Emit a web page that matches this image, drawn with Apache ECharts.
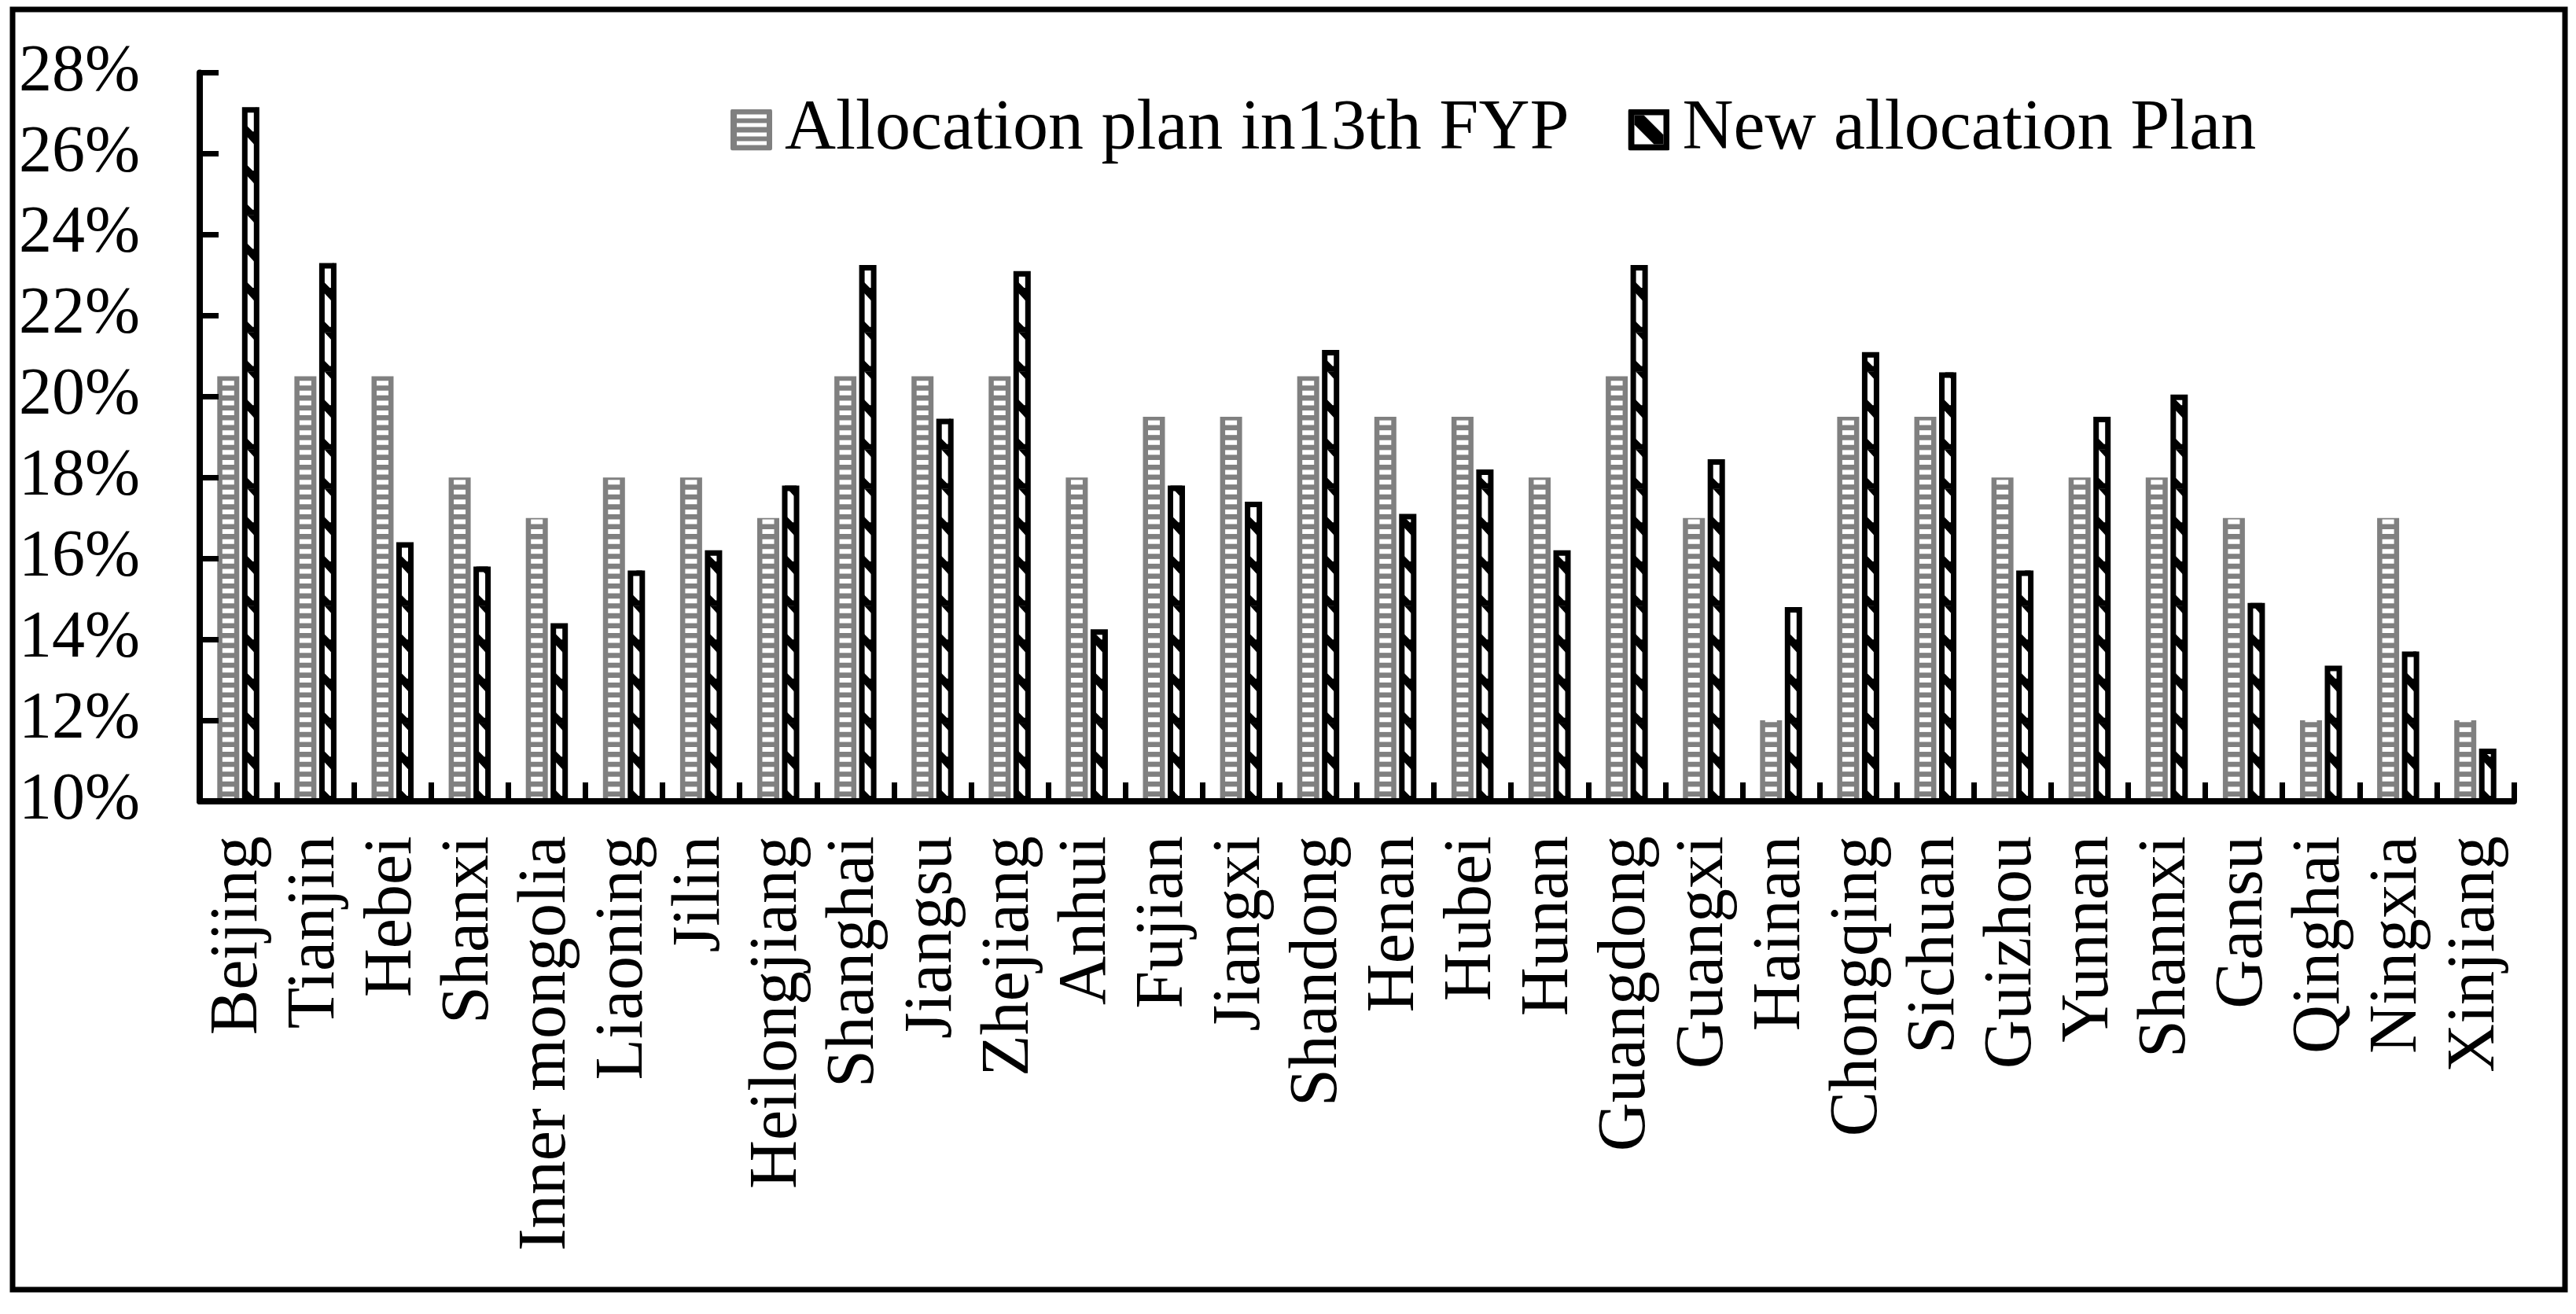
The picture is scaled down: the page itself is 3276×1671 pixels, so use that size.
<!DOCTYPE html>
<html>
<head>
<meta charset="utf-8">
<script src="https://cdn.jsdelivr.net/npm/echarts@6/dist/echarts.min.js"></script>
<style>
html,body{margin:0;padding:0;background:#ffffff;}
#chart{width:3276px;height:1671px;}
</style>
</head>
<body>
<div id="chart"></div>
<script>
// ---- data ----
const categories = ['Beijing','Tianjin','Hebei','Shanxi','Inner mongolia','Liaoning','Jilin','Heilongjiang','Shanghai','Jiangsu','Zhejiang','Anhui','Fujian','Jiangxi','Shandong','Henan','Hubei','Hunan','Guangdong','Guangxi','Hainan','Chongqing','Sichuan','Guizhou','Yunnan','Shannxi','Gansu','Qinghai','Ningxia','Xinjiang'];
const plan13 = [20.5,20.5,20.5,18,17,18,18,17,20.5,20.5,20.5,18,19.5,19.5,20.5,19.5,19.5,18,20.5,17,12,19.5,19.5,18,18,18,17,12,17,12];
const newPlan = [27.15,23.3,16.4,15.8,14.4,15.7,16.2,17.8,23.25,19.45,23.1,14.25,17.8,17.4,21.15,17.1,18.2,16.2,23.25,18.45,14.8,21.1,20.6,15.7,19.5,20.05,14.9,13.35,13.7,11.3];
const seriesNames = ['Allocation plan in13th FYP','New allocation Plan'];
const yMin = 10, yMax = 28, yInterval = 2;

// ---- legend icons ----
const grayIcon = "<svg xmlns='http://www.w3.org/2000/svg' width='53' height='53'><rect x='0' y='0' width='53' height='53' rx='3' fill='#808080'/><rect x='8' y='7' width='38' height='5' fill='#fff'/><rect x='8' y='18' width='38' height='5' fill='#fff'/><rect x='8' y='30' width='38' height='5' fill='#fff'/><rect x='8' y='41' width='38' height='5' fill='#fff'/></svg>";
const blackIcon = "<svg xmlns='http://www.w3.org/2000/svg' width='53' height='53'><rect x='0' y='0' width='53' height='53' rx='3' fill='#000'/><rect x='8' y='8' width='37' height='37' fill='#fff'/><polygon points='8,8 20,8 45,33 45,45 33,45 8,20' fill='#000'/></svg>";
const svgUri = s => 'image://data:image/svg+xml;charset=utf-8,' + encodeURIComponent(s);

const FONT = "'Liberation Serif','Times New Roman',serif";
const chart = echarts.init(document.getElementById('chart'), null, {renderer:'canvas'});

chart.setOption({
  animation: false,
  backgroundColor: '#ffffff',
  graphic: [{
    type: 'rect', silent: true, z: 100,
    shape: {x: 16, y: 12, width: 3246, height: 1628},
    style: {fill: 'none', stroke: '#000', lineWidth: 7}
  }],
  legend: {
    left: 924, top: 115,
    itemWidth: 53, itemHeight: 53, itemGap: 75,
    textStyle: {fontFamily: FONT, fontSize: 90, color: '#000', padding: [0,0,0,11]},
    data: [
      {name: seriesNames[0], icon: svgUri(grayIcon)},
      {name: seriesNames[1], icon: svgUri(blackIcon)}
    ]
  },
  grid: {left: 254, right: 79, top: 92.5, bottom: 652, containLabel: false},
  xAxis: {
    type: 'category', data: categories, z: 10,
    axisLine: {show: true, lineStyle: {color: '#000', width: 8}},
    axisTick: {show: true, inside: true, length: 24, interval: 0, lineStyle: {color: '#000', width: 7}},
    axisLabel: {interval: 0, rotate: 90, margin: 44, fontFamily: FONT, fontSize: 86, color: '#000'},
    splitLine: {show: false}
  },
  yAxis: {
    type: 'value', min: yMin, max: yMax, interval: yInterval, startValue: yMin, z: 10,
    axisLine: {show: true, lineStyle: {color: '#000', width: 8}},
    axisTick: {show: true, inside: true, length: 24, lineStyle: {color: '#000', width: 7}},
    axisLabel: {formatter: '{value}%', margin: 76, fontFamily: FONT, fontSize: 84, color: '#000'},
    splitLine: {show: false}
  },
  series: [
    {
      name: seriesNames[0], type: 'bar', data: plan13,
      barWidth: 28, barGap: '12.5%',
      itemStyle: {color: '#808080'}
    },
    {
      name: seriesNames[1], type: 'bar', data: newPlan,
      barWidth: 22, barGap: '12.5%',
      itemStyle: {color: '#ffffff', borderColor: '#000000', borderWidth: 7}
    },
    {
      name: seriesNames[0] + ' texture', type: 'pictorialBar', data: plan13,
      barWidth: 28, barGap: '12.5%', z: 3, silent: true,
      symbol: 'rect', symbolSize: [15, 6], symbolRepeat: true, symbolMargin: 3.3, symbolClip: true,
      itemStyle: {color: '#ffffff'}
    },
    {
      name: seriesNames[1] + ' texture', type: 'pictorialBar', data: newPlan,
      barWidth: 22, barGap: '12.5%', z: 3, silent: true,
      symbol: 'path://M3,0 L15,0 L15,13 Z M0,33 L10,43 L15,43 L15,50 L0,50 Z',
      symbolSize: [15, 50], symbolRepeat: true, symbolMargin: 0, symbolClip: true,
      itemStyle: {color: '#000000'}
    }
  ]
});
</script>
</body>
</html>
